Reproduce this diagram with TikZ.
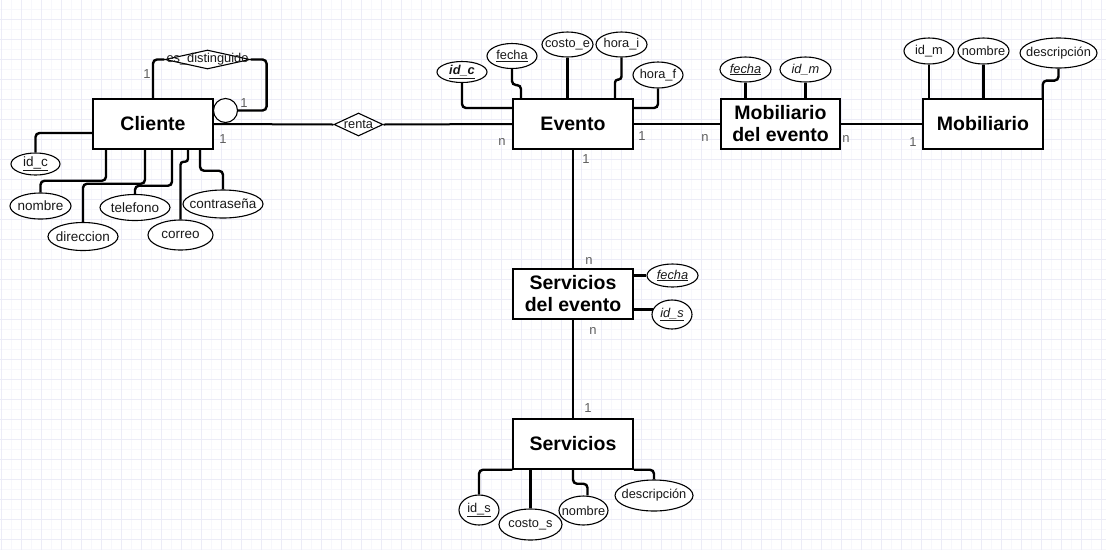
\documentclass[tikz,border=0pt]{standalone}
\usepackage{fontspec}
\setmainfont{Liberation Sans}
\usetikzlibrary{shapes.geometric}
\definecolor{gridmaj}{RGB}{236,236,247}
\definecolor{gridmin}{RGB}{247,247,252}
\definecolor{lblgray}{RGB}{95,95,95}
\definecolor{txtdark}{RGB}{25,25,25}
\newcommand\entfont{\fontsize{19.5}{22}\selectfont\bfseries}
\newcommand\attfont{\fontsize{12.8}{14}\selectfont}
\newcommand\cattfont{\fontsize{13.5}{15}\selectfont}
\begin{document}
\begin{tikzpicture}[x=1pt,y=-1pt,
  entity/.style={draw, line width=1.5pt, fill=white, minimum width=120pt, minimum height=50pt, inner sep=0pt, align=center, font=\entfont},
  attr/.style={ellipse, draw, line width=1.1pt, fill=white, inner sep=0pt},
  rel/.style={diamond, draw, line width=1.1pt, fill=white, inner sep=0pt},
  circ/.style={circle, draw, line width=1.1pt, fill=white, inner sep=0pt, minimum size=24pt},
  every label/.style={font=\attfont, text=txtdark, inner sep=0pt},
  conn/.style={draw, line width=2.4pt, rounded corners=4pt},
  rline/.style={draw, line width=2pt},
  lbl/.style={font=\fontsize{13}{15}\selectfont, text=lblgray, inner sep=0pt}
]
\useasboundingbox (0,0) rectangle (1106,550);
\fill[white] (0,0) rectangle (1106,550);
% grid
\foreach \gx in {11,31,...,1106} \draw[gridmin, line width=1pt] (\gx,0) -- (\gx,550);
\foreach \gy in {9,29,...,550} \draw[gridmin, line width=1pt] (0,\gy) -- (1106,\gy);
\foreach \gx in {1,21,...,1106} \draw[gridmaj, line width=1pt] (\gx,0) -- (\gx,550);
\foreach \gy in {19,39,...,550} \draw[gridmaj, line width=1pt] (0,\gy) -- (1106,\gy);

% entities
\node[entity] (cliente) at (153,124) {Cliente};
\node[entity] (evento) at (573,124) {Evento};
\node[entity, minimum width=119pt] (mobev) at (780.5,124) {Mobiliario\\del evento};
\node[entity] (mob) at (983,124) {Mobiliario};
\node[entity] (servev) at (573,294) {Servicios\\del evento};
\node[entity] (serv) at (573,444) {Servicios};

% relationships
\node[rel, minimum width=49pt, minimum height=23pt, label=center:renta] (renta) at (358.5,124.5) {};
\node[rel, minimum width=85pt, minimum height=19pt, label=center:{es\_distinguido}] (esd) at (207.5,59.5) {};
\node[circ] (circ) at (225.5,110.5) {};

% Cliente attributes
\node[attr, minimum width=49pt, minimum height=22pt, label=center:{\cattfont\underline{id\_c}}] (idc) at (35.5,164) {};
\node[attr, minimum width=61pt, minimum height=26pt, label=center:{\cattfont nombre}] (nombre) at (40.5,206) {};
\node[attr, minimum width=70pt, minimum height=28pt, label=center:{\cattfont direccion}] (direccion) at (83,236.5) {};
\node[attr, minimum width=70pt, minimum height=26pt, label=center:{\cattfont telefono}] (telefono) at (135,207.5) {};
\node[attr, minimum width=65pt, minimum height=30pt, label=center:{\cattfont correo}] (correo) at (180.5,235) {};
\node[attr, minimum width=80pt, minimum height=28pt, label=center:{\cattfont contraseña}] (contrasena) at (223,204) {};

% Evento attributes
\node[attr, minimum width=50pt, minimum height=21pt, label=center:{\textbf{\textit{\underline{id\_c}}}}] (idce) at (462,72) {};
\node[attr, minimum width=50pt, minimum height=25pt, label=center:{\underline{fecha}}] (fechae) at (512,56) {};
\node[attr, minimum width=51pt, minimum height=25pt, label=center:{costo\_e}] (costoe) at (567.5,44.5) {};
\node[attr, minimum width=51pt, minimum height=25pt, label=center:{hora\_i}] (horai) at (621.5,44.5) {};
\node[attr, minimum width=50pt, minimum height=26pt, label=center:{hora\_f}] (horaf) at (658,75) {};

% Mobiliario del evento attributes
\node[attr, minimum width=51pt, minimum height=25pt, label=center:{\textit{\underline{fecha}}}] (fecham) at (745.5,69.5) {};
\node[attr, minimum width=51pt, minimum height=25pt, label=center:{\textit{id\_m}}] (idmev) at (805.5,69.5) {};

% Mobiliario attributes
\node[attr, minimum width=50pt, minimum height=26pt, label=center:{id\_m}] (idm) at (929,51) {};
\node[attr, minimum width=51pt, minimum height=26pt, label=center:{nombre}] (nombrem) at (983.5,51) {};
\node[attr, minimum width=77pt, minimum height=30pt, label=center:{descripción}] (descm) at (1058.5,53) {};

% Servicios del evento attributes
\node[attr, minimum width=51pt, minimum height=23pt, label=center:{\textit{\underline{fecha}}}] (fechas) at (672.5,275.5) {};
\node[attr, minimum width=40pt, minimum height=29pt, label=center:{\textit{\underline{id\_s}}}] (idsev) at (672,314.5) {};

% Servicios attributes
\node[attr, minimum width=40pt, minimum height=30pt, label=center:{\underline{id\_s}}] (ids) at (479,510) {};
\node[attr, minimum width=63pt, minimum height=31pt, label=center:{costo\_s}] (costos) at (530.5,524.5) {};
\node[attr, minimum width=49pt, minimum height=29pt, label=center:{nombre}] (nombres) at (583.5,510.5) {};
\node[attr, minimum width=78pt, minimum height=31pt, label=center:{descripción}] (descs) at (654,495.5) {};

% relationship lines
\draw[rline] (cliente.east) -- (renta.west);
\draw[rline] (renta.east) -- (evento.west);
\draw[rline] (evento.east) -- (mobev.west);
\draw[rline] (mobev.east) -- (mob.west);
\draw[conn] (evento.south) -- (evento.south |- servev.north);
\draw[conn] (serv.north) -- (serv.north |- servev.south);
\draw[conn] (cliente.north) |- (esd.west);
\draw[conn] (esd.east) -- ++(16,0) |- (circ.east);

% Cliente attribute connectors
\draw[conn] (idc.north) |- ([yshift=-9pt]cliente.west);
\draw[conn] ([xshift=-47pt]cliente.south) -- ++(0,31) -| (nombre.north);
\draw[conn] ([xshift=-8pt]cliente.south) -- ++(0,34) -| (direccion.north);
\draw[conn] ([xshift=19pt]cliente.south) -- ++(0,36) -| (telefono.north);
\draw[conn, rounded corners=3pt] ([xshift=35pt]cliente.south) -- ++(0,12) -| (correo.north);
\draw[conn] ([xshift=47pt]cliente.south) -- ++(0,21) -| (contrasena.north);

% Evento attribute connectors
\draw[conn] (idce.south) |- ([yshift=16pt]evento.west);
\draw[conn] (fechae.south) -- ++(0,16) -| ([xshift=-52pt]evento.north);
\draw[conn] (costoe.south) -- (costoe.south |- evento.north);
\draw[conn, rounded corners=3pt] (horai.south) -- ++(0,22) -| ([xshift=42pt]evento.north);
\draw[conn] (horaf.south) |- ([yshift=16pt]evento.east);

% Mobiliario del evento connectors
\draw[conn] (fecham.south) -- (fecham.south |- mobev.north);
\draw[conn] (idmev.south) -- (idmev.south |- mobev.north);

% Mobiliario connectors
\draw[conn] (idm.south) -- (idm.south |- mob.north);
\draw[conn] (nombrem.south) -- (nombrem.south |- mob.north);
\draw[conn] (descm.south) -- ++(0,12) -| ([xshift=-1pt]mob.north east);

% Servicios del evento connectors
\draw[conn] (fechas.west) -- (fechas.west -| servev.east);
\draw[conn] (idsev.165) -- (idsev.165 -| servev.east);

% Servicios connectors
\draw[conn] (ids.north) |- (serv.south west);
\draw[conn] (costos.north) -- (costos.north |- serv.south);
\draw[conn] (serv.south) -- ++(0,14) -| ([xshift=4pt]nombres.north);
\draw[conn] (descs.north) |- (serv.south east);

% cardinality labels
\node[lbl] (l1) at (147,74) {1};
\node[lbl] (l2) at (244,103) {1};
\node[lbl] (l3) at (223,139) {1};
\node[lbl] (l4) at (502,142) {n};
\node[lbl] (l5) at (642,136) {1};
\node[lbl] (l6) at (705,138) {n};
\node[lbl] (l7) at (846,139) {n};
\node[lbl] (l8) at (913,142) {1};
\node[lbl] (l9) at (586,159) {1};
\node[lbl] (l10) at (589,261) {n};
\node[lbl] (l11) at (593,331) {n};
\node[lbl] (l12) at (588,408) {1};
\end{tikzpicture}
\end{document}
